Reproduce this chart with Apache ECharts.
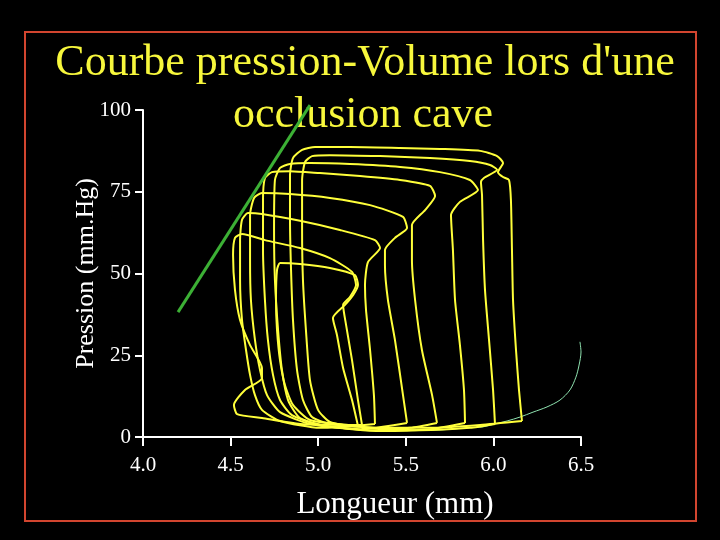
<!DOCTYPE html>
<html><head><meta charset="utf-8">
<script src="https://cdn.jsdelivr.net/npm/echarts@6/dist/echarts.min.js"></script>
<style>html,body{margin:0;padding:0;background:#000;}#c{width:720px;height:540px;}</style>
</head><body><div id="c"></div>
<script>
const titleLines = ["Courbe pression-Volume lors d'une", "occlusion cave"];
const xName = "Longueur (mm)";
const yName = "Pression (mm.Hg)";

// Pressure-length loops during caval occlusion: [length mm, pressure mmHg]
const loop1 = [[6.163,4.9],[6.146,14.4],[6.129,26.6],[6.112,41.9],[6.106,57.2],[6.100,72.5],[6.089,78.6],[6.055,79.5],[6.026,81.0],[6.055,83.8],[6.021,85.9],[5.924,87.5],[5.695,88.1],[5.467,88.4],[5.181,88.7],[4.982,88.7],[4.908,87.8],[4.856,85.3],[4.839,80.1],[4.839,66.4],[4.845,51.1],[4.856,35.8],[4.879,20.5],[4.913,11.3],[4.965,6.1],[5.067,4.0],[5.353,2.8],[5.638,2.8],[5.924,3.7],[6.163,4.9]];
const loop2 = [[6.009,4.0],[5.998,14.4],[5.975,29.7],[5.952,45.0],[5.941,60.2],[5.935,74.0],[5.929,78.0],[5.946,79.2],[6.021,81.7],[5.981,83.2],[5.866,84.4],[5.638,85.3],[5.353,85.9],[5.067,86.2],[4.965,85.9],[4.925,84.1],[4.908,78.6],[4.908,63.3],[4.913,48.0],[4.930,32.7],[4.953,17.4],[4.999,8.3],[5.067,4.6],[5.239,3.1],[5.581,2.1],[5.866,2.8],[6.009,4.0]];
const loop3 = [[5.838,4.3],[5.832,14.4],[5.809,28.1],[5.781,41.9],[5.769,57.2],[5.758,67.9],[5.809,71.9],[5.912,75.5],[5.866,78.6],[5.695,81.0],[5.467,82.6],[5.181,83.5],[4.953,83.8],[4.839,83.5],[4.782,82.3],[4.753,78.6],[4.748,63.3],[4.753,48.0],[4.771,32.7],[4.793,20.5],[4.828,11.3],[4.896,5.8],[5.067,3.1],[5.353,1.8],[5.638,2.4],[5.838,4.3]];
const loop4 = [[5.678,4.3],[5.650,12.8],[5.592,26.6],[5.553,41.9],[5.535,54.1],[5.535,64.8],[5.610,69.4],[5.667,73.7],[5.638,76.8],[5.467,78.6],[5.239,79.8],[5.010,80.7],[4.839,81.3],[4.736,81.0],[4.696,79.2],[4.685,72.5],[4.685,57.2],[4.696,41.9],[4.713,29.7],[4.742,19.0],[4.782,11.3],[4.850,6.7],[5.010,3.7],[5.296,2.1],[5.524,2.8],[5.678,4.3]];
const loop5 = [[5.507,4.3],[5.484,12.8],[5.438,29.7],[5.398,41.9],[5.381,52.6],[5.381,57.2],[5.438,60.9],[5.507,63.9],[5.484,67.3],[5.296,70.9],[5.067,73.1],[4.839,74.3],[4.679,74.6],[4.634,73.1],[4.611,67.9],[4.611,54.1],[4.616,41.9],[4.639,29.7],[4.668,20.5],[4.708,12.8],[4.782,7.6],[4.953,4.0],[5.239,2.4],[5.507,4.3]];
const loop6 = [[5.324,4.0],[5.318,12.8],[5.296,26.6],[5.273,38.8],[5.267,46.5],[5.284,53.5],[5.353,57.8],[5.324,60.2],[5.124,63.3],[4.896,66.1],[4.679,68.2],[4.599,68.5],[4.565,66.4],[4.554,60.2],[4.554,48.0],[4.565,35.8],[4.588,26.6],[4.611,19.0],[4.639,12.8],[4.679,8.3],[4.782,4.9],[5.010,2.8],[5.324,4.0]];
const loop7 = [[5.250,3.7],[5.227,11.3],[5.193,23.5],[5.159,34.3],[5.142,40.4],[5.181,42.8],[5.216,46.5],[5.193,50.5],[5.067,54.7],[4.896,57.8],[4.696,60.2],[4.565,62.1],[4.525,60.9],[4.514,55.7],[4.525,45.0],[4.554,35.8],[4.611,28.1],[4.679,21.1],[4.679,18.0],[4.582,14.4],[4.519,9.8],[4.537,7.0],[4.679,5.8],[4.896,4.0],[5.250,3.7]];
const loop8 = [[5.227,3.4],[5.193,11.3],[5.142,21.1],[5.107,31.2],[5.084,36.4],[5.153,40.4],[5.199,43.4],[5.227,46.5],[5.210,49.5],[5.067,51.7],[4.896,52.9],[4.782,53.2],[4.765,51.1],[4.759,41.9],[4.765,32.7],[4.782,23.5],[4.810,15.9],[4.856,9.8],[4.953,5.2],[5.227,3.4]];

// End-systolic relation (green straight line)
const espvr = [[4.200,38.2],[4.953,101.5]];
// End-diastolic filling curve (thin green)
const fillingCurve = [[6.494,29.1],[6.500,26.0],[6.489,22.0],[6.471,18.3],[6.437,14.4],[6.380,11.3],[6.306,9.2],[6.226,7.6],[6.152,6.1],[6.078,4.9],[6.009,4.0],[5.941,3.1],[5.849,2.8],[5.655,2.1],[5.467,2.1],[5.353,1.8]];

const loops = [loop1, loop2, loop3, loop4, loop5, loop6, loop7, loop8];

const serif = "'Liberation Serif', 'Times New Roman', serif";
const chart = echarts.init(document.getElementById('c'), null, {renderer: 'canvas'});

const series = [];
series.push({
  type: 'line', data: fillingCurve, showSymbol: false, clip: false, smooth: 0.3,
  lineStyle: {color: '#8fe3b0', width: 1}, z: 2
});
loops.forEach(function (lp) {
  series.push({
    type: 'line', data: lp, showSymbol: false, clip: false, smooth: 0.2,
    lineStyle: {color: '#ffff3a', width: 2}, z: 3
  });
});
series.push({
  type: 'line', data: espvr, showSymbol: false, clip: false,
  lineStyle: {color: '#3cb035', width: 3}, z: 4
});

chart.setOption({
  backgroundColor: '#000',
  animation: false,
  grid: {left: 143, right: 139, top: 110, bottom: 103},
  xAxis: {
    type: 'value', min: 4, max: 6.5, interval: 0.5,
    name: xName, nameLocation: 'middle', nameGap: 52, nameMoveOverlap: false,
    nameTextStyle: {color: '#fff', fontFamily: serif, fontSize: 31, padding: [0, 0, 0, 66]},
    axisLine: {lineStyle: {color: '#fff', width: 2}},
    axisTick: {length: 9, lineStyle: {color: '#fff', width: 2}},
    axisLabel: {color: '#fff', fontFamily: serif, fontSize: 21, margin: 18,
      formatter: function (v) { return v.toFixed(1); }},
    splitLine: {show: false}
  },
  yAxis: {
    type: 'value', min: 0, max: 100, interval: 25,
    name: yName, nameLocation: 'middle', nameGap: 44, nameMoveOverlap: false,
    nameTextStyle: {color: '#fff', fontFamily: serif, fontSize: 26},
    axisLine: {show: true, lineStyle: {color: '#fff', width: 2}},
    axisTick: {show: true, length: 8, lineStyle: {color: '#fff', width: 2}},
    axisLabel: {color: '#fff', fontFamily: serif, fontSize: 21, margin: 12},
    splitLine: {show: false}
  },
  graphic: [
    {type: 'rect', silent: true, z: 0,
     shape: {x: 25, y: 32, width: 671, height: 489},
     style: {fill: 'none', stroke: '#d2452f', lineWidth: 2}},
    {type: 'text', silent: true, x: 365, y: 63,
     style: {text: titleLines[0], fill: '#f7f73c', fontFamily: serif, fontSize: 44, align: 'center', verticalAlign: 'middle'}},
    {type: 'text', silent: true, x: 363, y: 115,
     style: {text: titleLines[1], fill: '#f7f73c', fontFamily: serif, fontSize: 44, align: 'center', verticalAlign: 'middle'}}
  ],
  series: series
});
</script>
</body></html>
